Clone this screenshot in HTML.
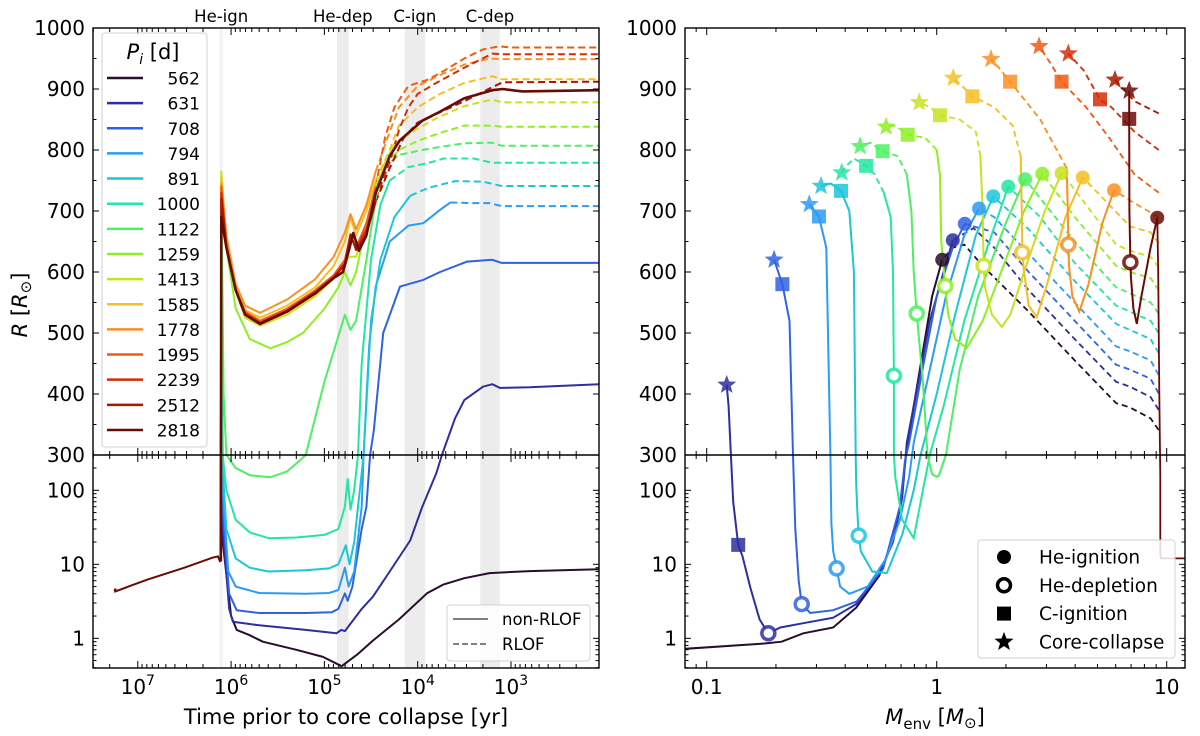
<!DOCTYPE html>
<html><head><meta charset="utf-8"><style>
body{margin:0;background:#fff;}
svg{display:block;font-family:"DejaVu Sans","Liberation Sans",sans-serif;}
</style></head><body>
<svg id="fig" width="1200" height="736" viewBox="0 0 1200 736">
<defs>
<clipPath id="clipL"><rect x="93" y="28" width="506" height="640"/></clipPath>
<clipPath id="clipR"><rect x="685" y="28" width="500" height="640"/></clipPath>
</defs>
<g id="bands"></g>
<g id="gL" clip-path="url(#clipL)"></g>
<g id="gR" clip-path="url(#clipR)"></g>
<g id="axes"></g>
<g id="leg"></g>
</svg>
<script>
// ===== data =====
const periods = [562,631,708,794,891,1000,1122,1259,1413,1585,1778,1995,2239,2512,2818];
const colors = ["#2a0c2e","#2c2f9c","#2f62e3","#2a9bf6","#1cc6d9","#22e6a2","#4cf062","#8ef022","#c9e21e","#f6be22","#fb8f20","#f15a10","#d62c06","#a91702","#6b0a05"];
const phaseLabels = ["He-ign","He-dep","C-ign","C-dep"];
const phaseBandsLogT = [[6.122,6.09],[4.865,4.74],[4.14,3.92],[3.33,3.12]];
const preMS = [[7.25,4.3],[7.24,4.7],[7.24,4.3],[6.9,6.2],[6.5,9],[6.2,12.3],[6.14,12.8],[6.12,11],[6.11,11]];
// left panel: [log10 t, R]
const Ls = {
562:[[6.11,11],[6.105,690],[6.09,20],[6.0,2],[5.94,1.3],[5.8,1.1],[5.66,0.9],[5.3,0.7],[5.015,0.56],[4.815,0.42],[4.65,0.6],[4.48,0.93],[4.2,1.8],[3.9,4.06],[3.73,5.3],[3.5,6.5],[3.23,7.6],[2.8,8.1],[2.05,8.6]],
631:[[6.11,11],[6.105,700],[6.09,30],[6.02,2.5],[5.98,1.67],[5.7,1.5],[5.2,1.3],[4.87,1.17],[4.82,1.3],[4.78,1.25],[4.6,2.5],[4.48,3.65],[4.3,8],[4.08,21],[3.95,60],[3.8,170],[3.74,300],[3.6,360],[3.5,390],[3.3,412],[3.2,416],[3.12,410],[2.8,411],[2.05,416]],
708:[[6.11,11],[6.105,700],[6.09,50],[6.02,4],[5.94,2.4],[5.7,2.2],[5.2,2.2],[4.92,2.25],[4.85,2.5],[4.78,4.05],[4.75,3.2],[4.7,5],[4.6,30],[4.55,60],[4.51,300],[4.47,340],[4.37,500],[4.19,576],[3.94,587],[3.76,600],[3.47,617],[3.2,620],[3.1,615],[2.05,615]],
794:[[6.11,11],[6.105,710],[6.09,100],[6.03,8],[5.95,5],[5.7,4.1],[5.2,4.0],[4.95,4.1],[4.85,4.5],[4.78,9],[4.74,5],[4.68,8],[4.6,60],[4.58,300],[4.52,480],[4.45,576],[4.3,650],[4.1,676],[3.94,680],[3.76,702],[3.65,714]],
891:[[6.11,11],[6.105,720],[6.09,200],[6.05,30],[5.95,12],[5.8,9],[5.6,8],[5.2,8.3],[4.95,8.8],[4.85,10],[4.77,18],[4.73,10],[4.68,20],[4.62,100],[4.58,300],[4.5,520],[4.4,620],[4.25,690],[4.08,725]],
1000:[[6.11,11],[6.105,730],[6.09,300],[6.05,100],[5.95,40],[5.8,27],[5.6,22.5],[5.3,23],[5.0,25],[4.85,30],[4.78,60],[4.75,142],[4.72,55],[4.68,100],[4.64,300],[4.6,450],[4.5,620],[4.4,710],[4.3,750]],
1122:[[6.11,11],[6.105,740],[6.08,400],[6.05,300],[5.95,200],[5.8,160],[5.58,150],[5.4,180],[5.26,255],[5.2,300],[5.0,420],[4.85,495],[4.78,530],[4.72,505],[4.66,520],[4.55,620],[4.45,720],[4.37,770]],
1259:[[6.11,11],[6.105,745],[6.05,640],[5.95,540],[5.8,490],[5.58,475],[5.4,485],[5.23,500],[5.0,540],[4.85,575],[4.78,600],[4.72,578],[4.66,600],[4.55,680],[4.45,740],[4.35,775]],
1413:[[6.11,11],[6.105,765],[6.05,650],[5.95,570],[5.85,525],[5.69,512],[5.4,530],[5.1,560],[4.9,590],[4.78,620],[4.72,625],[4.66,625],[4.55,680],[4.45,730],[4.35,780],[4.25,810]],
1585:[[6.11,11],[6.105,755],[6.05,655],[5.95,575],[5.85,538],[5.69,525],[5.4,545],[5.1,575],[4.9,610],[4.78,650],[4.72,690],[4.66,660],[4.55,700],[4.45,750]],
1778:[[6.11,11],[6.105,745],[6.05,660],[5.95,580],[5.85,545],[5.69,533],[5.4,555],[5.1,588],[4.9,625],[4.78,665],[4.72,695],[4.66,670],[4.55,710],[4.45,765]],
1995:[[6.11,11],[6.105,740],[6.05,645],[5.95,572],[5.85,535],[5.69,520],[5.4,540],[5.1,570],[4.9,595],[4.78,620],[4.72,660],[4.66,640],[4.55,680],[4.45,740]],
2239:[[6.11,11],[6.105,730],[6.05,642],[5.95,571],[5.85,532],[5.69,517],[5.4,537],[5.1,567],[4.9,592],[4.78,615],[4.72,660],[4.66,638],[4.55,670],[4.45,720]],
2512:[[6.11,11],[6.105,720],[6.05,641],[5.95,570],[5.85,531],[5.69,516],[5.4,536],[5.1,566],[4.9,591],[4.78,612],[4.72,662],[4.66,636],[4.55,662],[4.45,715]],
2818:[[6.11,11],[6.105,690],[6.05,640],[5.95,570],[5.85,530],[5.69,515],[5.4,535],[5.1,565],[4.9,590],[4.8,600],[4.73,640],[4.69,664],[4.63,635],[4.55,660],[4.45,730],[4.3,790],[4.19,816],[3.95,848],[3.76,863],[3.5,885],[3.2,898],[3.09,900],[2.88,896],[2.05,898]]
};
const Ld = {
794:[[3.65,714],[3.4,713],[3.23,713],[3.1,708],[2.05,708]],
891:[[4.08,725],[3.9,737],[3.76,743],[3.6,749],[3.3,748],[3.1,741],[2.05,741]],
1000:[[4.3,750],[4.1,772],[3.9,778],[3.72,786],[3.4,786],[3.2,779],[2.05,779]],
1122:[[4.37,770],[4.2,792],[3.95,800],[3.76,805],[3.5,811],[3.2,812],[3.1,807],[2.05,807]],
1259:[[4.35,775],[4.2,800],[4.0,815],[3.76,828],[3.5,840],[3.2,840],[3.1,838],[2.05,838]],
1413:[[4.25,810],[4.0,835],[3.8,852],[3.5,872],[3.2,883],[3.1,878],[2.05,878]],
1585:[[4.45,750],[4.3,800],[4.2,840],[4.0,870],[3.76,892],[3.5,910],[3.2,921],[3.1,916],[2.05,916]],
1778:[[4.45,765],[4.3,830],[4.2,870],[4.0,905],[3.76,923],[3.5,940],[3.23,950],[3.1,949],[2.05,949]],
1995:[[4.45,740],[4.35,820],[4.25,870],[4.1,905],[3.9,915],[3.76,926],[3.5,950],[3.3,965],[3.12,970],[3.0,968],[2.05,968]],
2239:[[4.45,720],[4.3,780],[4.2,833],[4.1,870],[4.0,892],[3.8,910],[3.5,935],[3.2,958],[3.1,957],[2.05,957]],
2512:[[4.45,715],[4.3,770],[4.15,820],[4.0,845],[3.76,862],[3.5,880],[3.2,903],[3.09,911],[2.05,912]]
};
// right panel: [log10 Menv, R]
const Rpre = {
562:[[0.965,341],[0.93,360],[0.84,378],[0.78,385],[0.6,455],[0.4,535],[0.2,610],[0.12,645],[0.07,640],[0.024,620]],
631:[[0.965,374],[0.93,395],[0.84,412],[0.78,420],[0.6,490],[0.4,570],[0.25,640],[0.16,672],[0.07,652]],
708:[[0.965,401],[0.93,425],[0.84,440],[0.78,448],[0.6,520],[0.4,600],[0.25,665],[0.122,679]],
794:[[0.965,431],[0.93,455],[0.84,470],[0.78,478],[0.6,550],[0.4,630],[0.25,690],[0.184,704]],
891:[[0.965,467],[0.93,490],[0.84,505],[0.78,515],[0.6,585],[0.4,670],[0.246,724]],
1000:[[0.965,500],[0.93,520],[0.84,535],[0.78,545],[0.6,615],[0.45,690],[0.311,740]],
1122:[[0.965,532],[0.93,550],[0.84,565],[0.78,575],[0.6,650],[0.384,752]],
1259:[[0.965,570],[0.93,590],[0.84,600],[0.78,610],[0.6,690],[0.459,761]],
1413:[[0.965,608],[0.93,625],[0.84,635],[0.78,645],[0.6,735],[0.543,762]],
1585:[[0.965,647],[0.93,665],[0.84,675],[0.635,755]],
1778:[[0.965,690],[0.85,715],[0.771,734]],
1995:[[0.965,730],[0.86,760],[0.75,820],[0.65,870],[0.543,912],[0.49,945],[0.445,970]],
2239:[[0.965,800],[0.86,830],[0.76,870],[0.71,883],[0.64,930],[0.572,958]],
2512:[[0.965,860],[0.86,880],[0.8,905],[0.775,915]],
2818:[[1.1,12],[0.975,12],[0.972,14],[0.972,150],[0.968,400],[0.963,600],[0.959,689]]
};
const Rloop = {
562:[[0.024,620],[-0.02,560],[-0.06,470],[-0.1,380],[-0.13,310],[-0.16,60],[-0.2,18],[-0.25,7],[-0.35,2.6],[-0.45,1.4],[-0.58,1.17],[-0.674,0.9],[-0.75,0.85],[-1.1,0.72]],
631:[[0.07,652],[0.03,600],[-0.03,520],[-0.08,420],[-0.13,320],[-0.15,80],[-0.19,20],[-0.25,7.5],[-0.35,2.9],[-0.45,1.9],[-0.58,1.6],[-0.68,1.4],[-0.732,1.17]],
708:[[0.122,679],[0.07,640],[0.0,560],[-0.06,444],[-0.12,320],[-0.138,250],[-0.16,60],[-0.233,8.7],[-0.348,3.15],[-0.45,2.4],[-0.55,2.2],[-0.587,2.9]],
794:[[0.184,704],[0.12,660],[0.04,560],[-0.03,440],[-0.1,320],[-0.12,150],[-0.16,40],[-0.22,12],[-0.3,5],[-0.38,4.0],[-0.42,5],[-0.435,8.8]],
891:[[0.246,724],[0.17,660],[0.08,530],[0.0,400],[-0.07,300],[-0.1,100],[-0.15,25],[-0.217,7.6],[-0.28,8],[-0.33,15],[-0.339,24.4]],
1000:[[0.311,740],[0.22,640],[0.12,520],[0.03,380],[-0.03,300],[-0.06,100],[-0.1,22.5],[-0.15,40],[-0.18,150],[-0.186,300],[-0.186,430]],
1122:[[0.384,752],[0.3,680],[0.18,560],[0.1,440],[0.04,300],[0.01,160],[0.0,152],[-0.02,165],[-0.04,300],[-0.06,420],[-0.087,532]],
1259:[[0.459,761],[0.38,700],[0.28,600],[0.2,520],[0.13,475],[0.08,490],[0.05,530],[0.037,577]],
1413:[[0.543,762],[0.47,700],[0.38,600],[0.32,530],[0.283,510],[0.24,530],[0.21,575],[0.204,610]],
1585:[[0.635,755],[0.56,690],[0.48,580],[0.435,526],[0.4,545],[0.38,600],[0.372,632]],
1778:[[0.771,734],[0.72,680],[0.66,580],[0.62,535],[0.59,560],[0.575,610],[0.572,645]],
2818:[[0.959,689],[0.93,640],[0.89,560],[0.87,515],[0.855,540],[0.845,590],[0.842,616]]
};
const RpostS = {
631:[[-0.732,1.17],[-0.77,1.8],[-0.81,4.8],[-0.845,13],[-0.863,18.3],[-0.885,70],[-0.895,300],[-0.905,380],[-0.913,415]],
708:[[-0.587,2.9],[-0.6,6],[-0.615,30],[-0.625,300],[-0.64,520],[-0.671,580],[-0.707,620]],
794:[[-0.435,8.8],[-0.45,15],[-0.458,35],[-0.462,300],[-0.48,640],[-0.512,691],[-0.554,711]],
891:[[-0.339,24.4],[-0.345,50],[-0.35,120],[-0.352,300],[-0.36,600],[-0.38,700],[-0.416,733],[-0.46,745],[-0.503,741]],
1000:[[-0.186,430],[-0.19,600],[-0.2,690],[-0.23,730]],
1122:[[-0.087,532],[-0.1,600],[-0.11,700],[-0.13,760]],
1259:[[0.037,577],[0.02,650],[0.014,760],[0.0,800]],
1413:[[0.204,610],[0.2,700],[0.19,790]],
1585:[[0.372,632],[0.37,700],[0.365,790]],
1778:[[0.572,645],[0.57,700],[0.565,770]],
2818:[[0.842,616],[0.838,700],[0.837,851],[0.837,897]]
};
const RpostD = {
1000:[[-0.23,730],[-0.27,760],[-0.307,774],[-0.36,786],[-0.39,775],[-0.413,763]],
1122:[[-0.13,760],[-0.17,790],[-0.235,798],[-0.29,812],[-0.333,806]],
1259:[[0.0,800],[-0.05,820],[-0.126,825],[-0.18,840],[-0.22,838]],
1413:[[0.19,790],[0.17,830],[0.1,850],[0.014,857],[-0.03,870],[-0.076,878]],
1585:[[0.365,790],[0.33,840],[0.25,870],[0.155,888],[0.11,905],[0.072,918]],
1778:[[0.565,770],[0.45,850],[0.319,912],[0.27,935],[0.236,949]]
};
const heIgn = {562:[0.024,620],631:[0.07,652],708:[0.122,679],794:[0.184,704],891:[0.246,724],1000:[0.311,740],1122:[0.384,752],1259:[0.459,761],1413:[0.543,762],1585:[0.635,755],1778:[0.771,734],2818:[0.959,689]};
const heDep = {631:[-0.732,1.17],708:[-0.587,2.9],794:[-0.435,8.8],891:[-0.339,24.4],1000:[-0.186,430],1122:[-0.087,532],1259:[0.037,577],1413:[0.204,610],1585:[0.372,632],1778:[0.572,645],2818:[0.842,616]};
const cIgn = {631:[-0.863,18.3],708:[-0.671,580],794:[-0.512,691],891:[-0.416,733],1000:[-0.307,774],1122:[-0.235,798],1259:[-0.126,825],1413:[0.014,857],1585:[0.155,888],1778:[0.319,912],1995:[0.543,912],2239:[0.71,883],2818:[0.837,851]};
const coreColl = {631:[-0.913,415],708:[-0.707,620],794:[-0.554,711],891:[-0.503,741],1000:[-0.413,763],1122:[-0.333,806],1259:[-0.22,838],1413:[-0.076,878],1585:[0.072,918],1778:[0.236,949],1995:[0.445,970],2239:[0.572,958],2512:[0.775,915],2818:[0.837,897]};
const linTicks = [300,400,500,600,700,800,900,1000];
const logTicks = [1,10,100];
const tDecades = [7,6,5,4,3];
const mTicks = [["0.1",-1],["1",0],["10",1]];

// ===== scales =====
const NS="http://www.w3.org/2000/svg";
const LT0=7.48, PXD=93.3, XL0=93, XL1=599, XR0=685, XR1=1185, YT=28, YD=455, YB=668;
function xL(lt){return XL0+(LT0-lt)*PXD;}
function xR(lm){return 936.7+lm*230;}
function yR(R){return R>=300 ? YD-(R-300)*0.61 : YD+(Math.log10(300)-Math.log10(R))*74;}
function mk(tag,parent,attrs){const e=document.createElementNS(NS,tag);for(const k in attrs)e.setAttribute(k,attrs[k]);parent.appendChild(e);return e;}
function pathD(pts,xf){return pts.map((p,i)=>(i?'L':'M')+xf(p[0]).toFixed(1)+','+yR(p[1]).toFixed(1)).join('');}

const svg=document.getElementById('fig');
const gB=document.getElementById('bands'), gL=document.getElementById('gL'), gR=document.getElementById('gR'), gA=document.getElementById('axes'), gG=document.getElementById('leg');

// bands
phaseBandsLogT.forEach((b,i)=>{
  const x1=xL(b[0]), x2=xL(b[1]);
  const r=mk('rect',gB,{x:x1,y:YT,width:x2-x1,height:YB-YT,fill: i==0?'#f2f2f2':'#ececec'});
  
  
  const t=mk('text',gB,{x:(x1+x2)/2,y:22,'text-anchor':'middle','font-size':16.5,fill:'#000'});
  t.textContent=phaseLabels[i];
  
  
});

// left series
periods.forEach((p,i)=>{
  if(Ld[p]){const e=mk('path',gL,{d:pathD(Ld[p],xL),fill:'none',stroke:colors[i],'stroke-width':2,'stroke-dasharray':'7,4'});
    
    }
});
periods.forEach((p,i)=>{
  const e=mk('path',gL,{d:pathD(Ls[p],xL),fill:'none',stroke:colors[i],'stroke-width':i==14?2.6:2,'stroke-linejoin':'round'});
  
  
});
{const e=mk('path',gL,{d:pathD(preMS,xL),fill:'none',stroke:colors[14],'stroke-width':2});
 
 }

// right series
periods.forEach((p,i)=>{
  if(Rpre[p]){const e=mk('path',gR,{d:pathD(Rpre[p],xR),fill:'none',stroke:colors[i],'stroke-width':1.8,'stroke-dasharray':p==2818?'none':'6,4'});
    
    }
  if(RpostD[p]){const e=mk('path',gR,{d:pathD(RpostD[p],xR),fill:'none',stroke:colors[i],'stroke-width':1.8,'stroke-dasharray':'6,4'});
    
    }
});
periods.forEach((p,i)=>{
  if(Rloop[p]){const e=mk('path',gR,{d:pathD(Rloop[p],xR),fill:'none',stroke:colors[i],'stroke-width':2});
    
    }
  if(RpostS[p]){const e=mk('path',gR,{d:pathD(RpostS[p],xR),fill:'none',stroke:colors[i],'stroke-width':2});
    
    }
});
function starPts(cx,cy,ro,ri){let s=[];for(let k=0;k<10;k++){const a=-Math.PI/2+k*Math.PI/5,r=k%2?ri:ro;s.push((cx+r*Math.cos(a)).toFixed(1)+','+(cy+r*Math.sin(a)).toFixed(1));}return s.join(' ');}
function drawMarker(g,type,cx,cy,col,op){
  if(type=='circle') return mk('circle',g,{cx,cy,r:7,fill:col,'fill-opacity':op});
  if(type=='ring') return mk('circle',g,{cx,cy,r:6.5,fill:'#fff',stroke:col,'stroke-width':3.5,'stroke-opacity':op});
  if(type=='square') return mk('rect',g,{x:cx-7,y:cy-7,width:14,height:14,fill:col,'fill-opacity':op});
  return mk('polygon',g,{points:starPts(cx,cy,10,4.2),fill:col,'fill-opacity':op});
}
periods.forEach((p,i)=>{
  [[heIgn,'circle','he-ignition'],[heDep,'ring','he-depletion'],[cIgn,'square','c-ignition'],[coreColl,'star','core-collapse']].forEach(([src,type,nm])=>{
    if(!src[p])return;
    const e=drawMarker(gR,type,xR(src[p][0]),yR(src[p][1]),colors[i],0.85);
    
    
  });
});

// ===== axes =====
function line(x1,y1,x2,y2,w){return mk('line',gA,{x1,y1,x2,y2,stroke:'#000','stroke-width':w||1});}
function txt(x,y,s,anchor,size,parent){const t=mk('text',parent||gA,{x,y,'text-anchor':anchor||'middle','font-size':size||20,fill:'#000'});t.textContent=s;return t;}
[[XL0,XL1,'left'],[XR0,XR1,'right']].forEach(([x0,x1,side])=>{
  const f=mk('rect',gA,{x:x0,y:YT,width:x1-x0,height:YB-YT,fill:'none',stroke:'#000','stroke-width':1.4});
  
  
  line(x0,YD,x1,YD,1.4);
  for(let v=300;v<=1000;v+=50){const y=yR(v),L=v%100==0?6:3.5;line(x0,y,x0+L,y);line(x1-L,y,x1,y);}
  linTicks.forEach(v=>{const t=txt(x0-8,yR(v)+7,String(v),'end',20);});
  for(let d=-1;d<=2;d++)for(let m=1;m<10;m++){const v=m*Math.pow(10,d);if(v<0.39||v>300)continue;const y=yR(v),L=m==1?6:3.5;line(x0,y,x0+L,y);line(x1-L,y,x1,y);}
  logTicks.forEach(v=>{const t=txt(x0-8,yR(v)+7,String(v),'end',20);});
});
for(let d=2;d<=7;d++)for(let m=1;m<10;m++){const lt=d+Math.log10(m);const x=xL(lt);if(x<XL0||x>XL1)continue;const L=m==1?7:4;
  line(x,YT,x,YT+L);line(x,YB-L,x,YB);line(x,YD-L,x,YD+L);}
tDecades.forEach(d=>{const t=mk('text',gA,{x:xL(d),y:694,'text-anchor':'middle','font-size':20});
  t.innerHTML='10<tspan dy="-9" font-size="14">'+d+'</tspan>';
  
  });
for(let d=-2;d<=1;d++)for(let m=1;m<10;m++){const lm=d+Math.log10(m);const x=xR(lm);if(x<XR0||x>XR1)continue;const L=m==1?7:4;
  line(x,YT,x,YT+L);line(x,YB-L,x,YB);line(x,YD-L,x,YD+L);}
mTicks.forEach(([s,lm])=>{const t=txt(xR(lm),694,s,'middle',20);});
{const t=mk('text',gA,{x:346,y:724,'text-anchor':'middle','font-size':21});t.textContent='Time prior to core collapse [yr]';
 }
{const t=mk('text',gA,{x:935,y:724,'text-anchor':'middle','font-size':21});
 t.innerHTML='<tspan font-style="italic">M</tspan><tspan font-size="15" dy="5">env</tspan><tspan dy="-5"> [</tspan><tspan font-style="italic">M</tspan><tspan font-size="15" dy="4">⊙</tspan><tspan dy="-4">]</tspan>';
 }
{const t=mk('text',gA,{x:0,y:0,'text-anchor':'middle','font-size':21,transform:'translate(27,305) rotate(-90)'});
 t.innerHTML='<tspan font-style="italic">R</tspan> [<tspan font-style="italic">R</tspan><tspan font-size="15" dy="4">⊙</tspan><tspan dy="-4">]</tspan>';
 }

// ===== legends =====
{const b=mk('rect',gG,{x:102,y:33,width:105,height:414,rx:3,fill:'#fff','fill-opacity':0.85,stroke:'#d0d0d0'});
 
 const t=mk('text',gG,{x:153,y:59,'text-anchor':'middle','font-size':21});
 t.innerHTML='<tspan font-style="italic">P</tspan><tspan font-style="italic" font-size="14" dy="5">i</tspan><tspan dy="-5"> [d]</tspan>';
 
 periods.forEach((p,i)=>{const y=78+i*25.14;
   const l=mk('line',gG,{x1:107,y1:y,x2:143,y2:y,stroke:colors[i],'stroke-width':2.5});
   
   const tt=txt(200,y+6.5,String(p),'end',17,gG);
   });
}
{const b=mk('rect',gG,{x:447,y:605,width:143,height:56,rx:3,fill:'#fff','fill-opacity':0.85,stroke:'#d0d0d0'});
 
 const l1=mk('line',gG,{x1:453,y1:619,x2:488,y2:619,stroke:'#808080','stroke-width':2});
 
 const l2=mk('line',gG,{x1:453,y1:644,x2:488,y2:644,stroke:'#808080','stroke-width':2,'stroke-dasharray':'6,3'});
 
 const a=txt(502,625,'non-RLOF','start',16.5,gG);
 const c=txt(502,650,'RLOF','start',16.5,gG);}
{const b=mk('rect',gG,{x:978,y:540,width:197,height:118,rx:3,fill:'#fff','fill-opacity':0.85,stroke:'#d0d0d0'});
 
 const items=[['circle','He-ignition'],['ring','He-depletion'],['square','C-ignition'],['star','Core-collapse']];
 items.forEach(([type,lab],k)=>{const y=557+k*28.3;
   const m=drawMarker(gG,type,1004,y,'#000',1);
   
   const t=txt(1039,y+6.5,lab,'start',18.5,gG);
   });
}
</script>
</body></html>
